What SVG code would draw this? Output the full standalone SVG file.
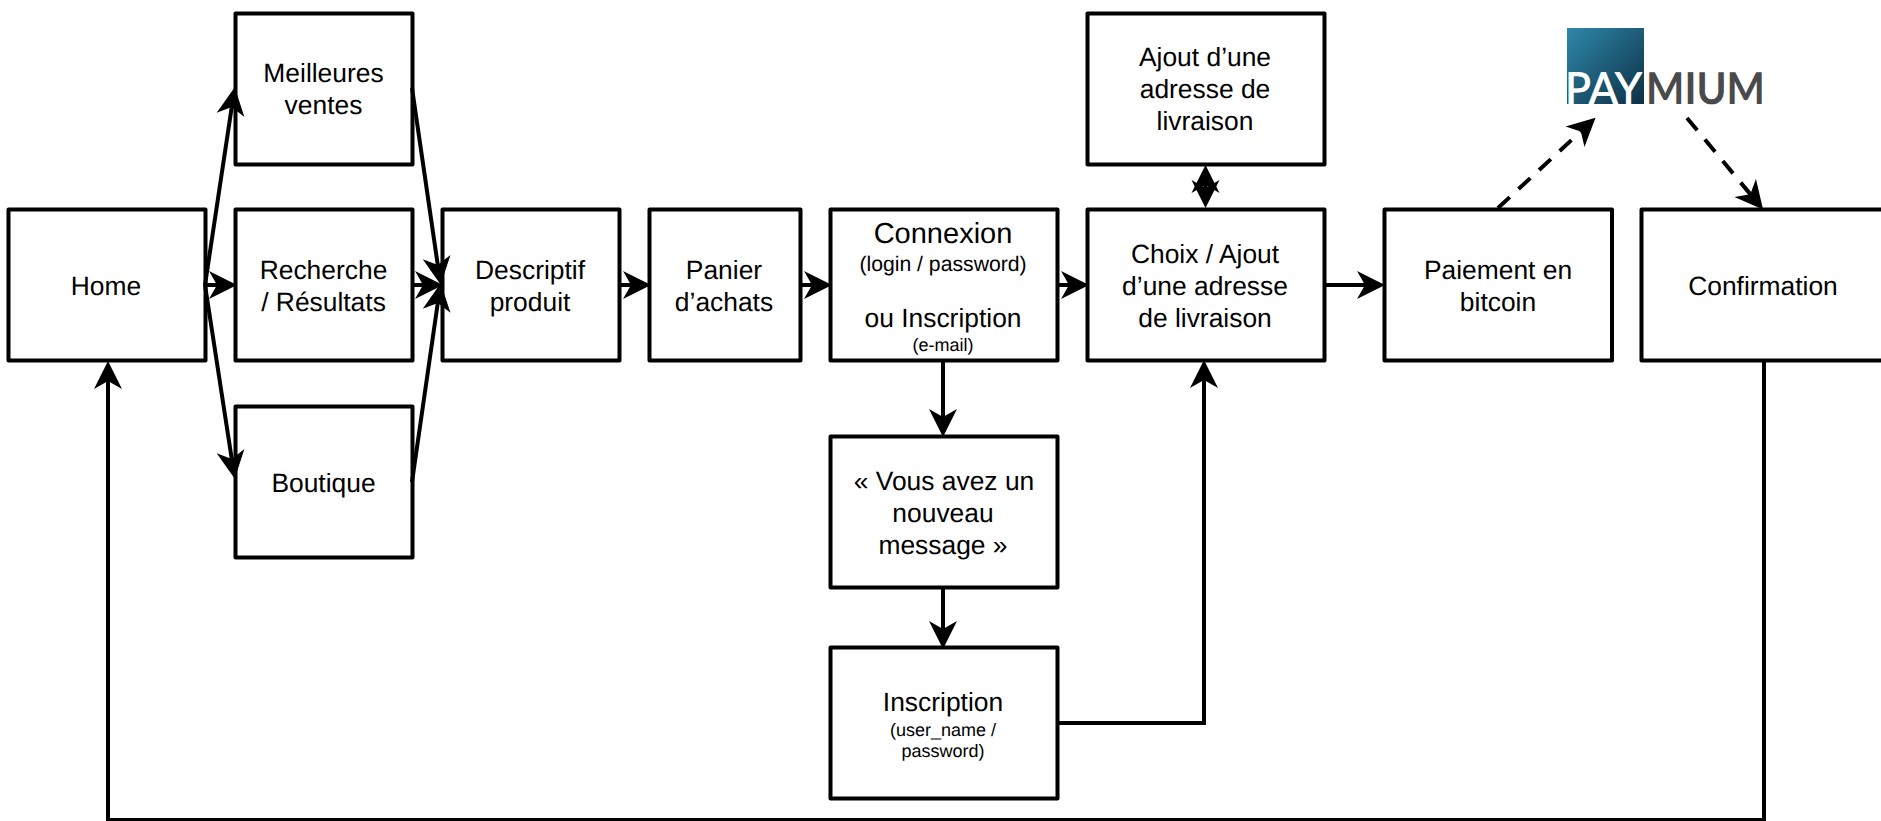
<svg xmlns="http://www.w3.org/2000/svg" width="1881" height="821" viewBox="0 0 1881 821">
<style>
text{font-family:"Liberation Sans",Arial,sans-serif;fill:#000;text-anchor:middle;font-size:26.4px;text-rendering:geometricPrecision}
.box{fill:#fff;stroke:#000;stroke-width:4;stroke-linejoin:round}
.c{fill:none;stroke:#000;stroke-width:4;marker-end:url(#a)}
.d{stroke-dasharray:16 12}
.l{font-size:29px}.m{font-size:21.2px}.s{font-size:18px}
.logo{font-family:"Lato","Open Sans",sans-serif;font-size:44px;font-weight:700;text-anchor:start}
</style>
<defs>
<marker id="a" markerUnits="userSpaceOnUse" viewBox="-20 -15 36 30" markerWidth="36" markerHeight="30" refX="0" refY="0" orient="auto-start-reverse"><path d="M15,0L-13,-14L-5,0L-13,14Z" fill="#000"/></marker>
<linearGradient id="g" x1="0" y1="0" x2="1" y2="1"><stop offset="0" stop-color="#2f88ab"/><stop offset="1" stop-color="#0c3044"/></linearGradient>
</defs>
<rect width="1881" height="821" fill="#fff"/>
<g id="home"><rect class="box" x="8.5" y="209.5" width="197" height="151"/><text x="106" y="295">Home</text></g>
<g id="meilleures"><rect class="box" x="235.5" y="13.5" width="177" height="151"/><text x="323.5" y="82">Meilleures</text><text x="323.5" y="114">ventes</text></g>
<g id="recherche"><rect class="box" x="235.5" y="209.5" width="177" height="151"/><text x="323.5" y="279">Recherche</text><text x="323.5" y="311">/ Résultats</text></g>
<g id="boutique"><rect class="box" x="235.5" y="406.5" width="177" height="151"/><text x="323.5" y="492">Boutique</text></g>
<g id="descriptif"><rect class="box" x="442.5" y="209.5" width="177" height="151"/><text x="530" y="279">Descriptif</text><text x="530" y="311">produit</text></g>
<g id="panier"><rect class="box" x="649.5" y="209.5" width="151" height="151"/><text x="724" y="279">Panier</text><text x="724" y="311">d’achats</text></g>
<g id="connexion"><rect class="box" x="830.5" y="209.5" width="227" height="151"/><text class="l" x="943" y="243">Connexion</text><text class="m" x="943" y="271">(login / password)</text><text x="943" y="327">ou Inscription</text><text class="s" x="943" y="351">(e-mail)</text></g>
<g id="vous"><rect class="box" x="830.5" y="436.5" width="227" height="151"/><text x="944" y="490">« Vous avez un</text><text x="943" y="522">nouveau</text><text x="943" y="554">message »</text></g>
<g id="inscription"><rect class="box" x="830.5" y="647.5" width="227" height="151"/><text x="943" y="711">Inscription</text><text class="s" x="943" y="736">(user_name /</text><text class="s" x="943" y="757">password)</text></g>
<g id="ajout"><rect class="box" x="1087.5" y="13.5" width="237" height="151"/><text x="1205" y="66">Ajout d’une</text><text x="1205" y="98">adresse de</text><text x="1205" y="130">livraison</text></g>
<g id="choix"><rect class="box" x="1087.5" y="209.5" width="237" height="151"/><text x="1205" y="263">Choix / Ajout</text><text x="1205" y="295">d’une adresse</text><text x="1205" y="327">de livraison</text></g>
<g id="paiement"><rect class="box" x="1384.5" y="209.5" width="227.5" height="151"/><text x="1498" y="279">Paiement en</text><text x="1498" y="311">bitcoin</text></g>
<g id="confirmation"><rect class="box" x="1641.5" y="209.5" width="260" height="151"/><text x="1763" y="295">Confirmation</text></g>
<g id="paymium"><rect x="1567" y="28" width="77" height="76" fill="url(#g)"/><text class="logo" x="1565" y="104" textLength="77" lengthAdjust="spacingAndGlyphs" style="fill:#fff;font-weight:400;stroke:#fff;stroke-width:.8">PAY</text><text class="logo" x="1646" y="104" textLength="119" lengthAdjust="spacingAndGlyphs" style="fill:#4a4a4a">MIUM</text></g>
<g id="connectors">
<path class="c" d="M205,285L232.5,102"/>
<path class="c" d="M205,285H222"/>
<path class="c" d="M205,285L232.5,464"/>
<path class="c" d="M412,88L438.5,270"/>
<path class="c" d="M412,285H428"/>
<path class="c" d="M412,482L438.5,298"/>
<path class="c" d="M619,285H636"/>
<path class="c" d="M800,285H817"/>
<path class="c" d="M1057,285H1074"/>
<path class="c" d="M1324,285H1370"/>
<path class="c" d="M1205.5,180V193" style="marker-start:url(#a)"/>
<path class="c" d="M943,360V422"/>
<path class="c" d="M943,587V634"/>
<path class="c" d="M1057,723H1204V375"/>
<path class="c" d="M1764,360V820H108V376"/>
<path class="c d" d="M1498,208L1584.5,128"/>
<path class="c d" d="M1687,118L1753.5,198"/>
</g>
</svg>
